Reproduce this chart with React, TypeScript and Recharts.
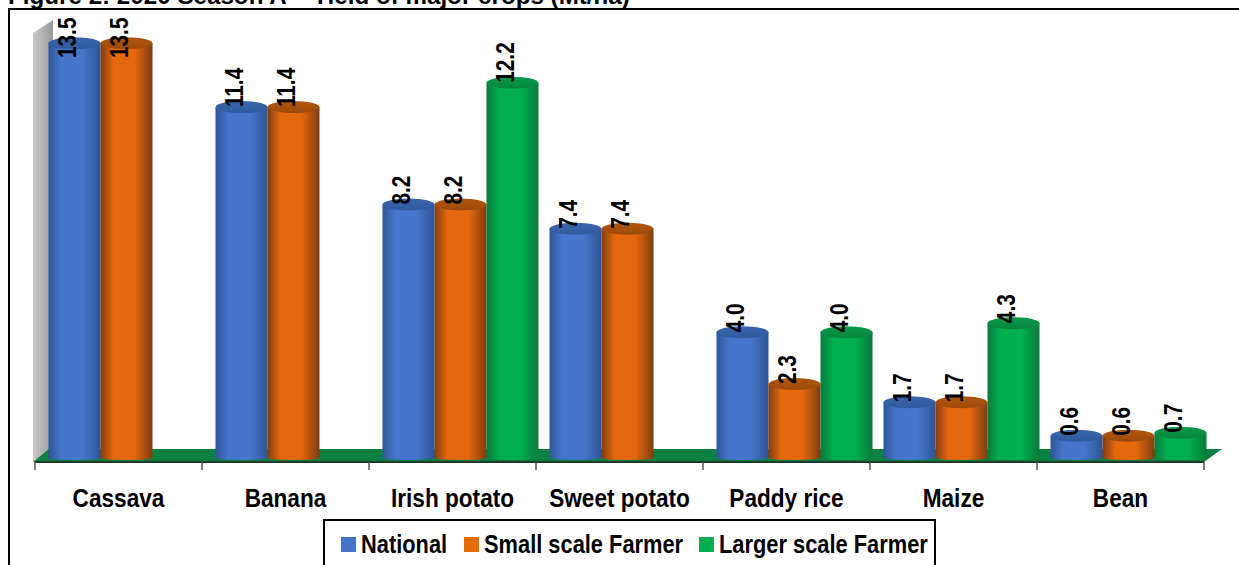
import { BarChart, Bar, XAxis, YAxis, Legend, LabelList, usePlotArea } from 'recharts'

const CROPS = ['Cassava', 'Banana', 'Irish potato', 'Sweet potato', 'Paddy rice', 'Maize', 'Bean']
const NATIONAL = [13.5, 11.4, 8.2, 7.4, 4.0, 1.7, 0.6]
const SMALL_SCALE = [13.5, 11.4, 8.2, 7.4, 2.3, 1.7, 0.6]
const LARGER_SCALE = [null, null, 12.2, null, 4.0, 4.3, 0.7]

const chartData = CROPS.map((crop, i) => ({
  crop,
  national: NATIONAL[i],
  small: SMALL_SCALE[i],
  larger: LARGER_SCALE[i]
}))

const FONT = '"Liberation Sans", Arial, sans-serif'
const WIDTH = 1239
const HEIGHT = 565
const DEPTH_X = 8
const DEPTH_Y = 8
const CAP_RY = 6
const LEGEND_TEXT_WIDTH = [86, 198, 208]

function Cylinder({ x, y, width, height, name }: any): React.ReactElement | null {
  if (!height || height <= 0) return null
  const left = x + DEPTH_X
  const right = left + width
  const top = y - DEPTH_Y
  const bottom = y + height - DEPTH_Y + 6
  const rx = width / 2
  const body = `M${left},${top} L${left},${bottom - 2} A${rx},2 0 0 0 ${right},${bottom - 2} L${right},${top} Z`
  return (
    <g>
      <path d={body} fill={`url(#body-${name})`} />
      <ellipse cx={left + rx} cy={top} rx={rx} ry={CAP_RY} fill={`url(#cap-${name})`} />
    </g>
  )
}

function BackWalls(): React.ReactElement | null {
  const plot = usePlotArea()
  if (!plot) return null
  const floor = plot.y + plot.height
  const left = plot.x
  const right = plot.x + plot.width
  return (
    <g>
      <polygon
        points={`${left - 2},${floor} ${left - 2},${plot.y - 3} ${left + 18},${plot.y - 16} ${left + 18},${floor - 13}`}
        fill="url(#wall)"
      />
      <polygon
        points={`${left - 2},${floor} ${left + 14},${floor - 13} ${right + 18},${floor - 13} ${right},${floor}`}
        fill="#0b8040"
      />
    </g>
  )
}

function CropTick({ x, y, payload }: any): React.ReactElement {
  const band = (WIDTH - 35 - 35) / CROPS.length
  const edge = x - band / 2
  return (
    <g>
      <line x1={edge} y1={y - 8} x2={edge} y2={y} stroke="#555" strokeWidth={1.5} />
      {payload.index === CROPS.length - 1 && (
        <line x1={edge + band} y1={y - 8} x2={edge + band} y2={y} stroke="#555" strokeWidth={1.5} />
      )}
      <text
        transform={`translate(${x},${y + 37}) scale(0.87,1)`}
        textAnchor="middle"
        fontFamily={FONT}
        fontWeight={700}
        fontSize={26}
        fill="#000"
      >
        {payload.value}
      </text>
    </g>
  )
}

// rotated value above the bar, kept inside the frame for the tallest bars
function ValueLabel({ x, y, width, value }: any): React.ReactElement | null {
  if (value === null || value === undefined) return null
  const cx = x + width / 2
  const base = Math.max(y - 8, 58)
  return (
    <text
      transform={`translate(${cx + 9},${base}) rotate(-90) scale(0.8,1)`}
      fontFamily={FONT}
      fontWeight={700}
      fontSize={26}
      fill="#000"
    >
      {Number(value).toFixed(1)}
    </text>
  )
}

function LegendBox({ payload }: any): React.ReactElement {
  return (
    <div style={{ display: 'flex', alignItems: 'center', height: 46, paddingLeft: 16 }}>
      {(payload ?? []).map((entry: any, i: number) => (
        <div key={entry.value} style={{ display: 'flex', alignItems: 'center', marginRight: 17 }}>
          <span style={{ width: 15, height: 15, marginRight: 5, background: entry.color }} />
          <span style={{ display: 'inline-block', width: LEGEND_TEXT_WIDTH[i] }}>
            <span
              style={{
                display: 'inline-block',
                transform: 'scaleX(0.84)',
                transformOrigin: 'left center',
                whiteSpace: 'nowrap',
                color: '#000',
                fontFamily: FONT,
                fontWeight: 700,
                fontSize: 26,
                lineHeight: '30px'
              }}
            >
              {entry.value}
            </span>
          </span>
        </div>
      ))}
    </div>
  )
}

function Gradients(): React.ReactElement {
  const series = [
    ['national', '#2f5597', '#4676cc', '#2f5597', '#2f5a9e', '#3a66ad'],
    ['small', '#7f3d12', '#e6680e', '#7f3d12', '#9c4a0a', '#b0560c'],
    ['larger', '#0a7a3c', '#00b050', '#0a7a3c', '#07843f', '#0a9a4a']
  ]
  return (
    <defs>
      {series.map(([name, edge, mid, edge2, cap1, cap2]) => (
        <g key={name}>
          <linearGradient id={`body-${name}`} x1="0" y1="0" x2="1" y2="0">
            <stop offset="0%" stopColor={edge} />
            <stop offset="25%" stopColor={mid} />
            <stop offset="65%" stopColor={mid} />
            <stop offset="100%" stopColor={edge2} />
          </linearGradient>
          <linearGradient id={`cap-${name}`} x1="0" y1="0" x2="0" y2="1">
            <stop offset="0%" stopColor={cap2} />
            <stop offset="100%" stopColor={cap1} />
          </linearGradient>
        </g>
      ))}
      <linearGradient id="wall" x1="0" y1="0" x2="1" y2="0">
        <stop offset="0%" stopColor="#c8c8c8" />
        <stop offset="100%" stopColor="#9a9a9a" />
      </linearGradient>
    </defs>
  )
}

export default function App(): React.ReactElement {
  return (
    <div style={{ position: 'absolute', left: 0, top: 0, width: WIDTH, height: HEIGHT, overflow: 'hidden', background: '#fff' }}>
      <div
        style={{
          position: 'absolute',
          left: 8,
          top: -18,
          fontFamily: FONT,
          fontWeight: 700,
          fontSize: 24.2,
          lineHeight: '28px',
          whiteSpace: 'nowrap',
          color: '#000'
        }}
      >
        Figure 2: 2020 Season A – Yield of major crops (Mt/ha)
      </div>
      <div
        style={{
          position: 'absolute',
          left: 8,
          top: 8,
          width: WIDTH,
          height: HEIGHT,
          borderLeft: '2px solid #000',
          borderTop: '2px solid #000'
        }}
      />
      <div style={{ position: 'absolute', left: 0, top: 0 }}>
        <BarChart
          width={WIDTH}
          height={HEIGHT}
          data={chartData}
          margin={{ top: 36, right: 35, bottom: 73, left: 35 }}
          barCategoryGap={5.5}
          barGap={0}
        >
          <Gradients />
          <BackWalls />
          <XAxis
            dataKey="crop"
            height={30}
            interval={0}
            tickLine={false}
            tickSize={8}
            tickMargin={0}
            axisLine={{ stroke: '#1f3a2a', strokeWidth: 2 }}
            tick={<CropTick />}
          />
          <YAxis hide domain={[0, 14]} />
          <Legend
            layout="horizontal"
            align="center"
            verticalAlign="middle"
            itemSorter={null}
            content={<LegendBox />}
            wrapperStyle={{
              left: 323,
              top: 519,
              width: 613,
              height: 60,
              bottom: 'auto',
              boxSizing: 'border-box',
              border: '2px solid #000',
              background: '#fff'
            }}
          />
          <Bar
            dataKey="national"
            name="National"
            fill="#4472c4"
            isAnimationActive={false}
            shape={(p: any) => <Cylinder {...p} name="national" />}
          >
            <LabelList dataKey="national" content={<ValueLabel />} />
          </Bar>
          <Bar
            dataKey="small"
            name="Small scale Farmer"
            fill="#e36c0a"
            isAnimationActive={false}
            shape={(p: any) => <Cylinder {...p} name="small" />}
          >
            <LabelList dataKey="small" content={<ValueLabel />} />
          </Bar>
          <Bar
            dataKey="larger"
            name="Larger scale Farmer"
            fill="#00b050"
            isAnimationActive={false}
            shape={(p: any) => <Cylinder {...p} name="larger" />}
          >
            <LabelList dataKey="larger" content={<ValueLabel />} />
          </Bar>
        </BarChart>
      </div>
    </div>
  )
}
